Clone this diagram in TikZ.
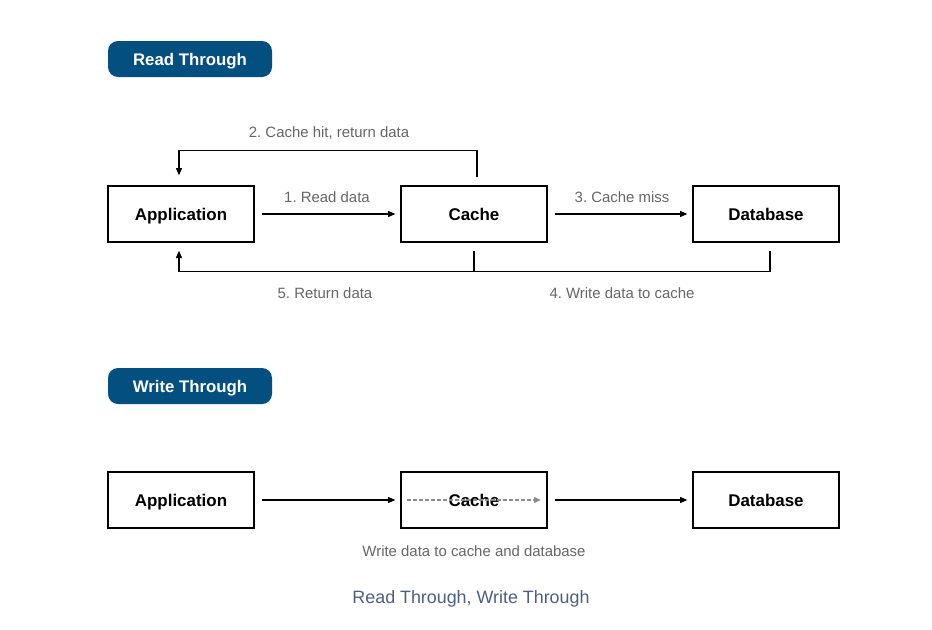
\documentclass[tikz,border=0pt]{standalone}
\usepackage{fontspec}
\setmainfont{Liberation Sans}
\usetikzlibrary{arrows.meta,calc}
\definecolor{pillblue}{HTML}{024F80}
\definecolor{lblgray}{HTML}{666666}
\definecolor{dashgray}{HTML}{8A8A8A}
\definecolor{capblue}{HTML}{4F5F7F}
\frenchspacing
\begin{document}
\begin{tikzpicture}[x=0.75pt,y=0.75pt,
  every node/.style={text height=1.0em, text depth=0.1em},
  box/.style={draw, line width=1pt, minimum width=109.5pt, minimum height=42pt, inner sep=0pt, font=\fontsize{12.7}{15}\selectfont\bfseries},
  pill/.style={fill=pillblue, rounded corners=7.5pt, minimum width=123pt, minimum height=27pt, inner sep=0pt, text=white, font=\fontsize{12.6}{15}\selectfont\bfseries},
  lbl/.style={text=lblgray, font=\fontsize{11.2}{13}\selectfont, inner sep=0pt},
  arr/.style={line width=1pt, -{Triangle[length=5.5pt,width=4.5pt]}},
  ln/.style={line width=1pt},
  dasharr/.style={draw=dashgray, line width=0.9pt, dash pattern=on 2.5pt off 2pt, -{Triangle[length=5pt,width=4.5pt]}}]
\useasboundingbox (0,0) rectangle (932,-629);
\fill[white] (0,0) rectangle (932,-629);

% Read Through
\node[pill] (p1) at (190,-59) {Read Through};
\node[box] (app) at (181,-214) {Application};
\node[box] (cache) at (474,-214) {Cache};
\node[box] (db) at (766,-214) {Database};

\draw[arr] ($(app.east)+(7,0)$) -- ($(cache.west)+(-5,0)$);
\draw[arr] ($(cache.east)+(7,0)$) -- ($(db.west)+(-5,0)$);
\node[lbl] (l1) at (327,-196) {1. Read data};
\node[lbl] (l3) at (622,-196) {3. Cache miss};

\coordinate (c2a) at ($(cache.north)+(3,8)$);
\coordinate (c2b) at ($(cache.north)+(3,35)$);
\coordinate (c2c) at ($(app.north)+(-2,35)$);
\coordinate (c2d) at ($(app.north)+(-2,10)$);
\draw[ln] (c2a) -- (c2b) -- (c2c);
\draw[arr] (c2c) -- (c2d);
\node[lbl] (l2) at (329,-131) {2. Cache hit, return data};

\coordinate (d4a) at ($(db.south)+(4,-8)$);
\coordinate (d4b) at ($(db.south)+(4,-29)$);
\coordinate (a5b) at ($(app.south)+(-2,-29)$);
\coordinate (a5a) at ($(app.south)+(-2,-8)$);
\coordinate (c4a) at ($(cache.south)+(0,-8)$);
\coordinate (c4b) at ($(cache.south)+(0,-29)$);
\draw[ln] (d4a) -- (d4b) -- (a5b);
\draw[arr] (a5b) -- (a5a);
\draw[ln] (c4a) -- (c4b);
\node[lbl] (l5) at (325,-292) {5. Return data};
\node[lbl] (l4) at (622,-292) {4. Write data to cache};

% Write Through
\node[pill] (p2) at (190,-386) {Write Through};
\node[box] (app2) at (181,-500) {Application};
\node[box] (cache2) at (474,-500) {Cache};
\node[box] (db2) at (766,-500) {Database};
\draw[dasharr] ($(cache2.west)+(7,0)$) -- ($(cache2.east)+(-7,0)$);
\draw[arr] ($(app2.east)+(7,0)$) -- ($(cache2.west)+(-5,0)$);
\draw[arr] ($(cache2.east)+(7,0)$) -- ($(db2.west)+(-5,0)$);
\node[lbl] (l6) at (474,-550) {Write data to cache and database};

\node[text=capblue, font=\fontsize{13.4}{16}\selectfont, inner sep=0pt] (cap) at (471,-597) {Read Through, Write Through};
\end{tikzpicture}
\end{document}
